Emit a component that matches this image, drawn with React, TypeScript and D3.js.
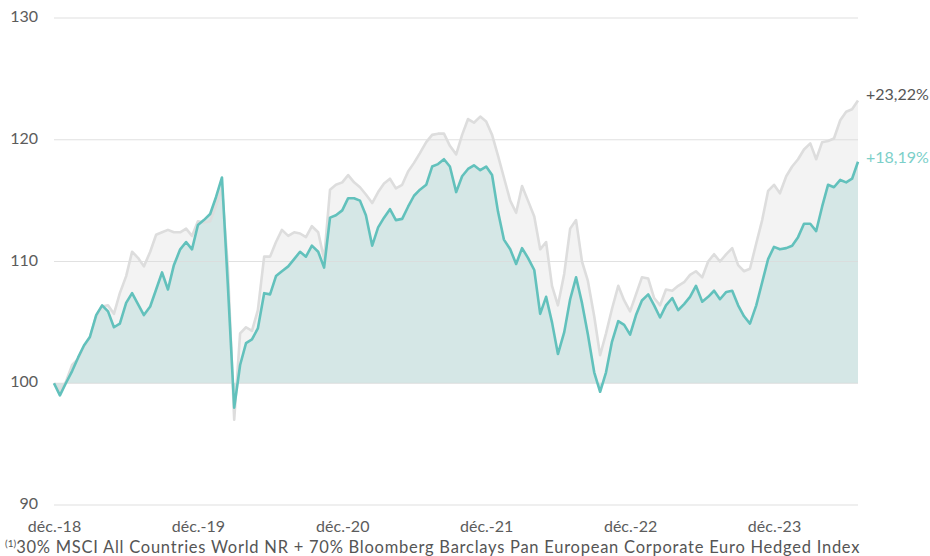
import React, { useRef, useEffect } from 'react';
import * as d3 from 'd3';

// half-monthly readings, starting end of Dec 2018
const startDate = new Date(2018, 11, 31);
const fundValues = [
  100.0, 99.0, 100.0, 101.0, 102.1, 103.1, 103.8, 105.6, 106.4, 105.9,
  104.6, 104.9, 106.6, 107.4, 106.5, 105.6, 106.3, 107.7, 109.1, 107.7,
  109.7, 111.0, 111.6, 111.0, 113.0, 113.4, 113.9, 115.3, 116.9, 108.0,
  98.0, 101.5, 103.3, 103.6, 104.5, 107.4, 107.3, 108.8, 109.2, 109.6,
  110.2, 110.8, 110.4, 111.3, 110.8, 109.5, 113.6, 113.8, 114.2, 115.2,
  115.2, 115.0, 113.8, 111.3, 112.8, 113.6, 114.3, 113.4, 113.5, 114.5,
  115.4, 115.9, 116.3, 117.8, 118.0, 118.4, 117.8, 115.7, 117.0, 117.6,
  117.9, 117.5, 117.8, 117.1, 114.1, 111.8, 111.0, 109.8, 111.1, 110.3,
  109.3, 105.7, 107.1, 105.0, 102.4, 104.2, 106.9, 108.7, 106.6, 104.0,
  100.9, 99.3, 100.9, 103.4, 105.1, 104.8, 104.0, 105.6, 106.8, 107.3,
  106.4, 105.4, 106.4, 107.0, 106.0, 106.5, 107.1, 108.0, 106.7, 107.1,
  107.6, 106.9, 107.5, 107.6, 106.4, 105.5, 104.9, 106.4, 108.3, 110.2,
  111.2, 111.0, 111.1, 111.3, 112.0, 113.1, 113.1, 112.5, 114.5, 116.3,
  116.1, 116.7, 116.5, 116.8, 118.19,
];
const benchValues = [
  100.0, 99.4, 100.1, 101.5, 102.0, 103.0, 103.8, 105.5, 106.3, 106.4,
  105.7, 107.4, 108.8, 110.8, 110.3, 109.6, 110.8, 112.2, 112.4, 112.6,
  112.4, 112.4, 112.7, 112.1, 113.3, 113.2, 113.3, 114.6, 116.0, 109.5,
  97.0, 104.1, 104.6, 104.3, 106.0, 110.4, 110.4, 111.6, 112.6, 112.1,
  112.4, 112.3, 112.0, 112.9, 112.4, 110.2, 115.9, 116.3, 116.5, 117.1,
  116.5, 116.1, 115.5, 114.8, 115.7, 116.4, 116.8, 116.0, 116.3, 117.4,
  118.1, 118.9, 119.8, 120.4, 120.5, 120.5, 119.5, 118.8, 120.4, 121.7,
  121.4, 121.9, 121.5, 120.4, 118.7, 116.9, 115.0, 114.0, 116.2, 115.0,
  113.7, 111.0, 111.6, 108.0, 106.4, 109.0, 112.7, 113.4, 110.0, 108.4,
  105.5, 102.3, 104.1, 106.1, 108.0, 106.8, 105.9, 107.3, 108.7, 108.6,
  107.0, 106.4, 107.7, 107.6, 108.0, 108.3, 108.9, 109.2, 108.7, 110.0,
  110.6, 110.0, 110.6, 111.1, 109.7, 109.2, 109.4, 111.5, 113.4, 115.8,
  116.3, 115.6, 117.0, 117.8, 118.4, 119.2, 119.7, 118.4, 119.8, 119.9,
  120.1, 121.6, 122.3, 122.5, 123.22,
];
const yTicks = [90, 100, 110, 120, 130];
const xTickYears = [2018, 2019, 2020, 2021, 2022, 2023];
const xTickLabels = ['déc.-18', 'déc.-19', 'déc.-20', 'déc.-21', 'déc.-22', 'déc.-23'];
const fundLabel = '+18,19%';
const benchLabel = '+23,22%';
const footnote = '30% MSCI All Countries World NR + 70% Bloomberg Barclays Pan European Corporate Euro Hedged Index';

const W = 930, H = 556;
const FONT = "Lato, 'Open Sans', sans-serif";

const App = () => {
  const svgRef = useRef<SVGSVGElement>(null);

  useEffect(() => {
    const svg = d3.select(svgRef.current);
    svg.selectAll('*').remove();

    const dates = fundValues.map((_, i) => d3.timeDay.offset(startDate, Math.round(i * 365.25 / 24)));
    const x = d3.scaleTime().domain([dates[0], dates[dates.length - 1]]).range([54, 858]);
    const y = d3.scaleLinear().domain([90, 130]).range([505, 18]);

    const area = (vals: number[]) => d3.area<number>()
      .x((_, i) => x(dates[i]))
      .y0(y(100))
      .y1(v => y(v))(vals);
    const line = (vals: number[]) => d3.line<number>()
      .x((_, i) => x(dates[i]))
      .y(v => y(v))(vals);

    /* areas first: benchmark light grey, fund teal on top */
    svg.append('path').attr('d', area(benchValues)).attr('fill', '#f3f3f3');
    svg.append('path').attr('d', area(fundValues)).attr('fill', '#d5e7e6');

    /* grid */
    svg.append('g').selectAll('line')
      .data(yTicks)
      .join('line')
      .attr('x1', 54).attr('x2', 858)
      .attr('y1', d => y(d)).attr('y2', d => y(d))
      .attr('stroke', '#dcdcdc').attr('stroke-width', 1.2).attr('opacity', 0.85);

    svg.append('g').selectAll('text')
      .data(yTicks)
      .join('text')
      .attr('x', 38).attr('y', d => y(d))
      .attr('text-anchor', 'end').attr('dominant-baseline', 'middle')
      .attr('font-family', FONT).attr('font-size', 16).attr('fill', '#5c5c5c')
      .text(d => d);

    const xAxis = d3.axisBottom(x)
      .tickValues(xTickYears.map(yr => new Date(yr, 11, 31)))
      .tickFormat((_, i) => xTickLabels[i])
      .tickSize(0).tickPadding(0);
    const gx = svg.append('g').attr('transform', 'translate(0,527)').call(xAxis);
    gx.select('.domain').remove();
    gx.selectAll('text')
      .attr('font-family', FONT).attr('font-size', 16).attr('fill', '#5c5c5c')
      .attr('dy', '0.32em');

    /* lines */
    svg.append('path').attr('d', line(benchValues))
      .attr('fill', 'none').attr('stroke', '#dddddd').attr('stroke-width', 2.6).attr('stroke-linejoin', 'round');
    svg.append('path').attr('d', line(fundValues))
      .attr('fill', 'none').attr('stroke', '#62c1bc').attr('stroke-width', 2.6).attr('stroke-linejoin', 'round');

    /* end labels */
    svg.append('text').attr('x', 866).attr('y', 100)
      .attr('font-family', FONT).attr('font-size', 16).attr('fill', '#555')
      .text(benchLabel);
    svg.append('text').attr('x', 866).attr('y', 163)
      .attr('font-family', FONT).attr('font-size', 16).attr('fill', '#7ccfc9')
      .text(fundLabel);

    /* footnote */
    const fn = svg.append('text').attr('x', 5).attr('y', 553)
      .attr('font-family', FONT).attr('fill', '#555');
    fn.append('tspan').attr('font-size', 10).attr('dy', -6).text('(1)');
    fn.append('tspan').attr('font-size', 16.5).attr('dy', 6)
      .attr('letter-spacing', 0.75).text(footnote);
  }, []);

  return (
    <svg ref={svgRef} width={W} height={H} style={{ position: 'absolute', left: 0, top: 0 }} />
  );
};

export default App;
